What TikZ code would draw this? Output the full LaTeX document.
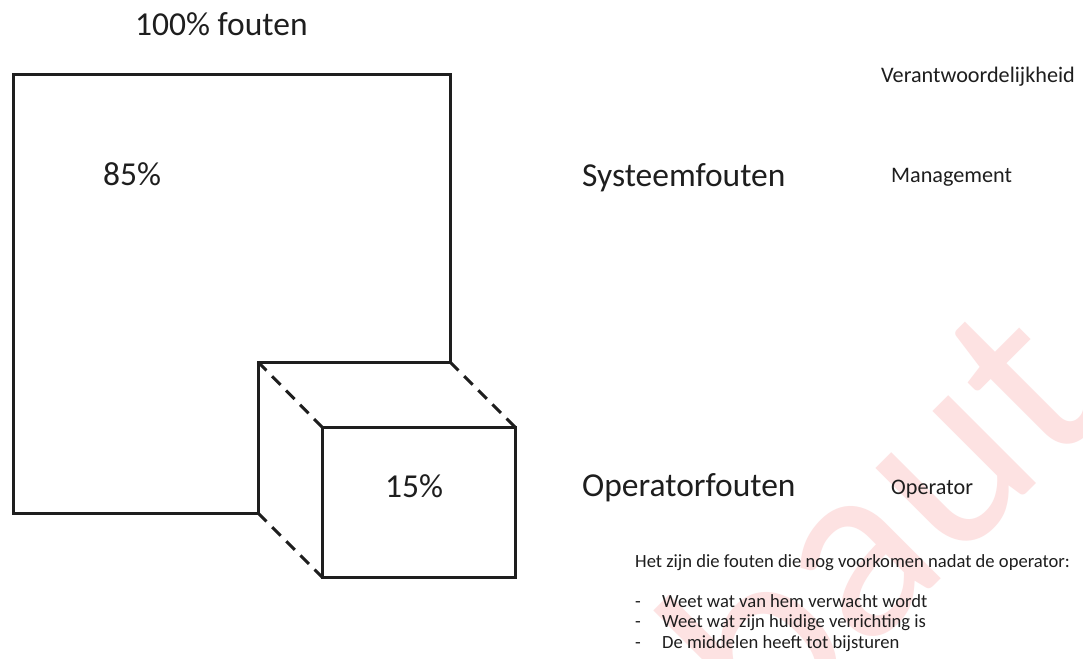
\documentclass[tikz,border=0pt]{standalone}
\usepackage{fontspec}
\setmainfont{Carlito}
\definecolor{ink}{RGB}{30,30,30}
\definecolor{wmark}{RGB}{253,226,226}
\begin{document}
\begin{tikzpicture}[x=1pt,y=-1pt,
  edge/.style={line width=3pt, line join=miter, draw=ink},
  hidden/.style={line width=3pt, draw=ink, dash pattern=on 12pt off 8pt},
  big/.style={font=\fontsize{33.5}{36}\selectfont, text=ink, inner sep=0pt, anchor=base west},
  mid/.style={font=\fontsize{22.2}{26}\selectfont, text=ink, inner sep=0pt, anchor=base west},
  small/.style={font=\fontsize{18.6}{21}\selectfont, text=ink, inner sep=0pt, anchor=base west}]
\useasboundingbox (0,0) rectangle (1083,658);
\clip (0,0) rectangle (1083,658);
\fill[white] (0,0) rectangle (1083,658);

% watermark
\node[rotate=45, anchor=base west, inner sep=0pt, text=wmark,
      font=\fontsize{260}{260}\selectfont] (wm) at (768,752) {baut};

% corner points of the two blocks
\coordinate (A) at (13.5,75);
\coordinate (B) at (450,75);
\coordinate (C) at (450,362);
\coordinate (D) at (258,362);
\coordinate (E) at (258,513);
\coordinate (F) at (13.5,513);
\coordinate (P) at (322,427);
\coordinate (Q) at (515,427);
\coordinate (R) at (515,577);
\coordinate (S) at (322,577);

% large block (85%)
\draw[edge] (D) -- (C) -- (B) -- (A) -- (F) -- (E) -- cycle;
% small block (15%)
\draw[edge] (P) rectangle (R);
% receding edges
\draw[hidden] (D) -- (P);
\draw[hidden] (C) -- (Q);
\draw[hidden] (E) -- (S);

% labels
\node[big] (total) at (135,36) {100\% fouten};
\node[big] (p85) at (103,185) {85\%};
\node[big] (p15) at (385,497) {15\%};
\node[big] (sys) at (582,186) {Systeemfouten};
\node[big] (ops) at (582,496) {Operatorfouten};
\node[mid] (resp) at (881,83) {Verantwoordelijkheid};
\node[mid] (mgmt) at (891,182) {Management};
\node[mid] (oper) at (891,494) {Operator};
\node[small] (intro) at (635,567) {Het zijn die fouten die nog voorkomen nadat de operator:};
\node[small] (d1) at (635,607) {-};
\node[small] (l1) at (662,607) {Weet wat van hem verwacht wordt};
\node[small] (d2) at (635,627) {-};
\node[small] (l2) at (662,627) {Weet wat zijn huidige verrichting is};
\node[small] (d3) at (635,648) {-};
\node[small] (l3) at (662,648) {De middelen heeft tot bijsturen};
\end{tikzpicture}
\end{document}
